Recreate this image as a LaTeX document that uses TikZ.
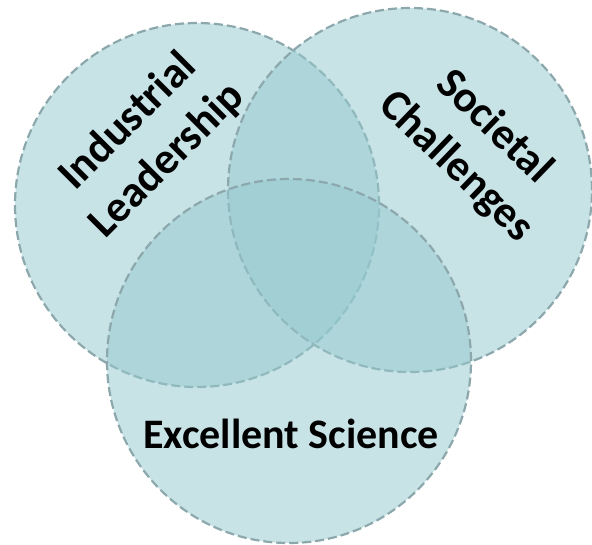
\documentclass[tikz,border=0pt]{standalone}
\usepackage{fontspec}
\setmainfont{Carlito}
\usepackage{tikz}
\usetikzlibrary{positioning}
\definecolor{venn}{RGB}{149,201,207}
\definecolor{rim}{RGB}{140,168,173}
\tikzstyle{every node}=[thick]
\tikzstyle{set}=[circle,inner sep=0pt,minimum size=364pt,fill=venn,fill opacity=0.52,draw=rim,draw opacity=1,line width=2.2pt,dash pattern=on 9pt off 4pt]
\tikzstyle{lbl}=[align=center,text opacity=1,font=\bfseries\fontsize{44}{55}\selectfont]

\begin{document}
\begin{tikzpicture}[x=1pt,y=-1pt]
\useasboundingbox (0,0) rectangle (592,544);
\node[set] (c_i) at (197,205) {};
\node[set] (c_s) at (410,190) {};
\node[set] (c_e) at (289,361) {};
\node[lbl,rotate=45]  (t_i) at (148,141) {Industrial\\Leadership};
\node[lbl,rotate=-44] (t_s) at (475,147) {Societal\\Challenges};
\node[lbl,font=\bfseries\fontsize{42}{50}\selectfont] (t_e) at (291,434) {Excellent Science};
\end{tikzpicture}
\end{document}
